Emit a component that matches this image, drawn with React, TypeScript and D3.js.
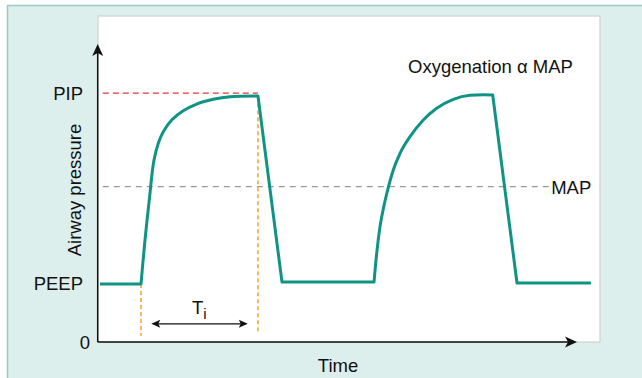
import React from "react";
import * as d3 from "d3";

// ---- data (time units, pressure units) ----
const flat0: [number, number][] = [[0.42, 5.9], [8.96, 5.9]];
const rise1: [number, number][] = [
  [8.96, 5.9], [9.79, 10.37], [10.83, 15.12], [11.19, 16.81], [11.67, 18.51],
  [12.56, 20.21], [13.6, 21.39], [15.35, 22.58], [17.77, 23.52], [20.56, 24.2],
  [24.02, 24.68], [27.5, 24.95], [33.33, 25.02],
];
const fall1: [number, number][] = [[33.33, 25.02], [38.33, 6.1], [57.5, 6.1]];
const rise2: [number, number][] = [
  [57.5, 6.1], [58.06, 9.02], [58.75, 11.73], [59.69, 14.11], [60.48, 15.73],
  [61.52, 17.49], [62.92, 19.19], [65.0, 20.88], [67.77, 22.58], [70.56, 23.77],
  [74.02, 24.68], [77.5, 25.09], [80.27, 25.15], [82.23, 25.12],
];
const fall2: [number, number][] = [[82.23, 25.12], [87.29, 6.0], [102.7, 6.0]];

const levelNames = ["PIP", "MAP", "PEEP", "0"];
const levelValues = [25.3, 15.8, 5.9, 0];
const tiStart = 8.96;
const tiEnd = 33.33;
const tiArrow = [11.1, 31.2];
const tiArrowLevel = 1.85;

const W = 642;
const H = 378;
const FONT = "'Liberation Sans', Arial, Helvetica, sans-serif";
const FS = 18.5;

export default function App() {
  const x = d3.scaleLinear().domain([0, 100]).range([98, 578]);
  const y = d3.scaleLinear().domain([0, 30]).range([342, 47]);

  const lin = d3.line<[number, number]>().x((d) => x(d[0])).y((d) => y(d[1])).curve(d3.curveLinear);
  const smooth = d3.line<[number, number]>().x((d) => x(d[0])).y((d) => y(d[1])).curve(d3.curveCatmullRom.alpha(0.5));
  const mono = d3.line<[number, number]>().x((d) => x(d[0])).y((d) => y(d[1])).curve(d3.curveMonotoneX);
  const parts = [lin(flat0)!, smooth(rise1)!, lin(fall1)!, mono(rise2)!, lin(fall2)!];
  const wave = parts.map((p, i) => (i === 0 ? p : "L" + p.slice(1))).join("");

  const x0 = x(0) - 0.3;
  const yBase = y(0);
  const yTop = y(30) - 3;
  const xEnd = x(100) - 1;
  const teal = "#0f9484";
  const orange = "#f6a02c";

  const ya = y(tiArrowLevel);
  const xa1 = x(tiArrow[0]);
  const xa2 = x(tiArrow[1]);

  return (
    <svg width={W} height={H} style={{ position: "absolute", left: 0, top: 0, display: "block" }} fontFamily={FONT}>
      <rect x={0} y={0} width={W} height={H} fill="#ffffff" />
      <rect x={7} y={5} width={W - 7} height={H - 5} fill="#ddefec" />
      <line x1={7} y1={5.5} x2={W} y2={5.5} stroke="#98ccc4" strokeWidth={1.5} />
      <line x1={7.5} y1={5} x2={7.5} y2={H} stroke="#98ccc4" strokeWidth={1.5} />
      {/* panel */}
      <rect x={98} y={16} width={502} height={326} fill="#ffffff" stroke="#cfcfcf" strokeWidth={1.2} />

      {/* reference lines */}
      <line x1={x(1)} x2={x(33.3)} y1={y(levelValues[0])} y2={y(levelValues[0])} stroke="#e0393b" strokeWidth={1.2} strokeDasharray="6,4" />
      <line x1={x(1)} x2={x(94)} y1={y(levelValues[1])} y2={y(levelValues[1])} stroke="#9a9a9a" strokeWidth={1.2} strokeDasharray="6,5" />
      <line x1={x(tiStart)} x2={x(tiStart)} y1={y(5.9)} y2={y(0.6)} stroke={orange} strokeWidth={1.5} strokeDasharray="4,3" />
      <line x1={x(tiEnd)} x2={x(tiEnd)} y1={y(25)} y2={y(0.8)} stroke={orange} strokeWidth={1.5} strokeDasharray="4,3" />

      {/* waveform */}
      <path d={wave} fill="none" stroke={teal} strokeWidth={3} strokeLinejoin="round" />

      {/* axes */}
      <line x1={x0} x2={x0} y1={yBase} y2={yTop + 8} stroke="#111" strokeWidth={1.5} />
      <path d={`M${x0},${yTop} L${x0 - 5.5},${yTop + 12} L${x0},${yTop + 9} L${x0 + 5.5},${yTop + 12} Z`} fill="#111" />
      <line x1={x0} x2={xEnd - 6} y1={yBase} y2={yBase} stroke="#111" strokeWidth={1.5} />
      <path d={`M${xEnd},${yBase} L${xEnd - 12},${yBase - 5.5} L${xEnd - 9},${yBase} L${xEnd - 12},${yBase + 5.5} Z`} fill="#111" />

      {/* Ti arrow */}
      <line x1={xa1 + 3} x2={xa2 - 3} y1={ya} y2={ya} stroke="#111" strokeWidth={1.2} />
      <path d={`M${xa1},${ya} L${xa1 + 9},${ya - 4} L${xa1 + 7},${ya} L${xa1 + 9},${ya + 4} Z`} fill="#111" />
      <path d={`M${xa2},${ya} L${xa2 - 9},${ya - 4} L${xa2 - 7},${ya} L${xa2 - 9},${ya + 4} Z`} fill="#111" />
      <text x={192} y={314} fontSize={FS} fill="#111">T<tspan fontSize={15} dy={5}>i</tspan></text>

      {/* labels */}
      <text x={83} y={y(levelValues[0]) + 7} fontSize={FS} textAnchor="end" fill="#111">{levelNames[0]}</text>
      <text x={83} y={y(levelValues[2]) + 6.5} fontSize={FS} textAnchor="end" fill="#111">{levelNames[2]}</text>
      <text x={90} y={y(levelValues[3]) + 7} fontSize={FS} textAnchor="end" fill="#111">{levelNames[3]}</text>
      <text x={x(94) + 2} y={y(levelValues[1]) + 7} fontSize={FS} fill="#111">{levelNames[1]}</text>
      <text x={408} y={73} fontSize={FS} fill="#111">Oxygenation α MAP</text>
      <text x={338} y={372} fontSize={FS} textAnchor="middle" fill="#111">Time</text>
      <text transform={`translate(81,190) rotate(-90)`} fontSize={FS} textAnchor="middle" fill="#111">Airway pressure</text>
    </svg>
  );
}
